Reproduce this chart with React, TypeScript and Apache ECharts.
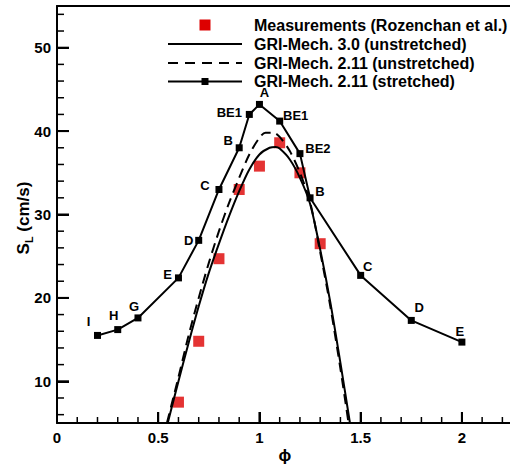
import React, { useEffect, useRef } from "react";
import * as echarts from "echarts";

// Measurements (Rozenchan et al.)
const measPhi = [0.6, 0.7, 0.8, 0.9, 1.0, 1.1, 1.2, 1.3];
const measSL = [7.5, 14.8, 24.7, 33.0, 35.8, 38.6, 35.0, 26.5];

// GRI-Mech. 3.0 (unstretched)
const gri30Phi = [0.547, 0.6, 0.65, 0.7, 0.75, 0.8, 0.85, 0.9, 0.95, 1.0, 1.05, 1.08, 1.1, 1.15, 1.2, 1.25, 1.3, 1.35, 1.4, 1.447];
const gri30SL = [5, 10.0, 14.6, 19.0, 23.0, 26.5, 29.8, 32.8, 35.4, 37.2, 38.0, 38.1, 37.9, 36.6, 34.4, 31.3, 25.8, 19.5, 12.2, 5];

// GRI-Mech. 2.11 (unstretched)
const gri211Phi = [0.543, 0.6, 0.65, 0.7, 0.75, 0.8, 0.85, 0.9, 0.95, 1.0, 1.03, 1.07, 1.1, 1.15, 1.2, 1.25, 1.3, 1.35, 1.4, 1.44];
const gri211SL = [5, 10.5, 15.5, 20.0, 24.2, 28.0, 31.4, 34.4, 37.2, 39.2, 39.8, 39.8, 39.3, 37.6, 35.0, 31.5, 25.5, 19.0, 11.5, 5];

// GRI-Mech. 2.11 (stretched)
const strPhi = [0.2, 0.3, 0.4, 0.6, 0.7, 0.8, 0.9, 0.95, 1.0, 1.1, 1.2, 1.25, 1.5, 1.75, 2.0];
const strSL = [15.5, 16.2, 17.6, 22.4, 26.9, 33.0, 38.0, 42.0, 43.2, 41.2, 37.3, 32.0, 22.7, 17.3, 14.7];
const strTags = ["I", "H", "G", "E", "D", "C", "B", "BE1", "A", "BE1", "BE2", "B", "C", "D", "E"];
const strTagOffsets = [
  [-9, -14], [-4, -14], [-4, -11], [-11, -3], [-10, 0], [-14, -4], [-11, -7],
  [-20, -2], [5, -12], [16, -6], [18, -5], [10, -6], [7, -9], [8, -13], [-2, -11],
];

// tick values
const xMajorTicks = [0.5, 1, 1.5, 2];
const xMinorTicks = [0.1, 0.2, 0.3, 0.4, 0.6, 0.7, 0.8, 0.9, 1.1, 1.2, 1.3, 1.4, 1.6, 1.7, 1.8, 1.9, 2.1, 2.2];
const yMajorTicks = [10, 20, 30, 40, 50];
const yMinorTicks = [6, 8, 12, 14, 16, 18, 22, 24, 26, 28, 32, 34, 36, 38, 42, 44, 46, 48, 52, 54];

// axis ranges
const X_MIN = 0, X_MAX = 2.25, X_STEP = 0.5;
const Y_MIN = 5, Y_MAX = 55;
const Y_LABEL_MIN = 10, Y_LABEL_MAX = 50, Y_LABEL_STEP = 10;

const legendLabels = [
  "Measurements (Rozenchan et al.)",
  "GRI-Mech. 3.0 (unstretched)",
  "GRI-Mech. 2.11 (unstretched)",
  "GRI-Mech. 2.11 (stretched)",
];

const FONT = '"Liberation Sans", Arial, Helvetica, "DejaVu Sans", sans-serif';
const RED = "#dd0000";
const CW = 513; // a little wider than the 510px window: the frame's right edge is cropped
const CH = 466;

export default function App() {
  const ref = useRef<HTMLDivElement>(null);
  useEffect(() => {
    if (!ref.current) return;
    const chart = echarts.init(ref.current, undefined, { renderer: "svg" });
    const pairs = (xs: number[], ys: number[]) => xs.map((x, i) => [x, ys[i]]);

    const gLeft = 57, gTop = 6, gBottom = 43, gRight = 0.5;
    const plotH = CH - gTop - gBottom;
    const pxPerY = plotH / (Y_MAX - Y_MIN);
    const plotW = CW - gLeft - gRight;

    const rowY = [25, 44, 63, 81.5];

    // tick marks as thin rectangular scatter symbols, placed through the axes' own scales
    const tickSeries = (data: number[][], vertical: boolean, len: number, width: number) => ({
      type: "scatter", xAxisIndex: 0, yAxisIndex: 0, clip: false, silent: true, z: 5,
      symbol: "rect",
      symbolSize: vertical ? [width, len] : [len, width],
      symbolOffset: vertical ? [0, -len / 2] : [len / 2, 0],
      itemStyle: { color: "#000", opacity: 1 },
      data,
    });

    const labelFont = { color: "#000", fontSize: 15, fontWeight: "bold", fontFamily: FONT };

    const option: any = {
      animation: false,
      grid: [
        { left: gLeft, right: gRight, top: gTop, bottom: gBottom, containLabel: false },
        {
          left: gLeft, right: gRight, containLabel: false,
          top: gTop + (Y_MAX - Y_LABEL_MAX) * pxPerY,
          bottom: gBottom + (Y_LABEL_MIN - Y_MIN) * pxPerY,
        },
      ],
      xAxis: [
        {
          gridIndex: 0, type: "value", min: X_MIN, max: X_MAX, interval: X_STEP, position: "bottom",
          axisLine: { show: true, lineStyle: { color: "#000", width: 2 } },
          axisTick: { show: true, inside: true, length: 11, lineStyle: { color: "#000", width: 2 } },
          axisLabel: { ...labelFont, margin: 7, showMaxLabel: false, formatter: (v: number) => String(v) },
          splitLine: { show: false },
        },
        {
          gridIndex: 0, type: "value", min: X_MIN, max: X_MAX, position: "top",
          axisLine: { show: true, lineStyle: { color: "#000", width: 2 } },
          axisTick: { show: false }, axisLabel: { show: false }, splitLine: { show: false },
        },
        { gridIndex: 1, type: "value", min: 0, max: 1, show: false },
      ],
      yAxis: [
        {
          gridIndex: 0, type: "value", min: Y_MIN, max: Y_MAX, position: "left",
          axisLine: { show: true, lineStyle: { color: "#000", width: 2 } },
          axisTick: { show: false }, axisLabel: { show: false }, splitLine: { show: false },
        },
        {
          gridIndex: 1, type: "value", min: Y_LABEL_MIN, max: Y_LABEL_MAX, interval: Y_LABEL_STEP, position: "left",
          axisLine: { show: false },
          axisTick: { show: true, inside: true, length: 12, lineStyle: { color: "#000", width: 2 } },
          axisLabel: { ...labelFont, margin: 6 },
          splitLine: { show: false },
        },
      ],
      series: [
        {
          name: legendLabels[0], type: "scatter", symbol: "rect", symbolSize: 11,
          xAxisIndex: 0, yAxisIndex: 0, itemStyle: { color: RED }, z: 1,
          data: pairs(measPhi, measSL),
        },
        {
          name: legendLabels[1], type: "line", showSymbol: false, smooth: 0.3, z: 3,
          xAxisIndex: 0, yAxisIndex: 0, lineStyle: { color: "#000", width: 2 },
          data: pairs(gri30Phi, gri30SL),
        },
        {
          name: legendLabels[2], type: "line", showSymbol: false, smooth: 0.3, z: 3,
          xAxisIndex: 0, yAxisIndex: 0, lineStyle: { color: "#000", width: 2, type: [10, 6] },
          data: pairs(gri211Phi, gri211SL),
        },
        {
          name: legendLabels[3], type: "line", symbol: "rect", symbolSize: 7, z: 4,
          xAxisIndex: 0, yAxisIndex: 0,
          itemStyle: { color: "#000" }, lineStyle: { color: "#000", width: 2 },
          data: strPhi.map((x, i) => ({
            value: [x, strSL[i]],
            label: {
              show: true, formatter: strTags[i], position: "inside",
              offset: strTagOffsets[i], color: "#000",
              fontSize: 13, fontWeight: "bold", fontFamily: FONT,
            },
          })),
        },
        tickSeries(xMajorTicks.map((v) => [v, Y_MIN]), true, 11, 2),
        tickSeries(xMinorTicks.map((v) => [v, Y_MIN]), true, 6, 1.5),
        tickSeries(yMajorTicks.map((v) => [X_MIN, v]), false, 12, 2),
        tickSeries(yMinorTicks.map((v) => [X_MIN, v]), false, 7, 1.5),
      ],
      graphic: [
        {
          type: "text", x: 23, y: 218, rotation: Math.PI / 2,
          style: {
            text: "{s|S}{sub|L}{s| (cm/s)}", align: "center", verticalAlign: "middle",
            rich: {
              s: { fontSize: 17, fontWeight: "bold", fill: "#000", fontFamily: FONT, lineHeight: 22 },
              sub: { fontSize: 11, fontWeight: "bold", fill: "#000", fontFamily: FONT, verticalAlign: "bottom" },
            },
          },
        },
        {
          type: "text", x: gLeft + plotW / 2, y: 455,
          style: {
            text: "ϕ", fill: "#000", fontSize: 17, fontWeight: "bold", fontFamily: FONT,
            align: "center", verticalAlign: "middle",
          },
        },
        { type: "rect", shape: { x: 199.5, y: rowY[0] - 5.5, width: 11, height: 11 }, style: { fill: RED } },
        { type: "line", shape: { x1: 168, y1: rowY[1], x2: 242, y2: rowY[1] }, style: { stroke: "#000", lineWidth: 2 } },
        { type: "line", shape: { x1: 168, y1: rowY[2], x2: 242, y2: rowY[2] }, style: { stroke: "#000", lineWidth: 2, lineDash: [10, 7] } },
        { type: "line", shape: { x1: 168, y1: rowY[3], x2: 242, y2: rowY[3] }, style: { stroke: "#000", lineWidth: 2 } },
        { type: "rect", shape: { x: 201.5, y: rowY[3] - 3.5, width: 7, height: 7 }, style: { fill: "#000" } },
        ...legendLabels.map((t, i) => ({
          type: "text", x: 254, y: rowY[i],
          style: {
            text: t, fill: "#000", fontSize: 16, fontWeight: "bold", fontFamily: FONT,
            align: "left", verticalAlign: "middle",
          },
        })),
      ],
    };
    chart.setOption(option);
    return () => chart.dispose();
  }, []);
  return <div ref={ref} style={{ position: "fixed", left: 0, top: 0, width: CW, height: CH, background: "#fff" }} />;
}
